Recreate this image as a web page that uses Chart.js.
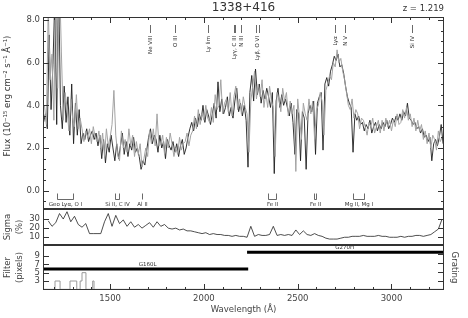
<!DOCTYPE html>
<html>
<head>
<meta charset="utf-8">
<script src="https://cdn.jsdelivr.net/npm/chart.js@4.4.1/dist/chart.umd.min.js"></script>
<style>
  html, body { margin: 0; padding: 0; background: #fff; }
  #wrap { position: relative; width: 468px; height: 318px; }
  #wrap canvas { position: absolute; left: 0; top: 0; }
</style>
</head>
<body>
<div id="wrap">
  <canvas id="flux-chart" width="468" height="318"></canvas>
  <canvas id="sigma-chart" width="468" height="318"></canvas>
  <canvas id="filter-chart" width="468" height="318"></canvas>
</div>
<script>
// ---- data ----
const plotTitle = '1338+416';
const redshiftLabel = 'z = 1.219';
const fluxTitle = 'Flux (10\u207B\u00B9\u2075 erg cm\u207B\u00B2 s\u207B\u00B9 \u00C5\u207B\u00B9)';

const waveMin = 1142, waveMax = 3280;
const waveTicks = [1500, 2000, 2500, 3000];

// main spectrum, 10 A bins starting at 1145 A
const fluxStart = 1145, fluxStep = 10;
const fluxBlack = [
  3.2, 3.6, 2.9, 7.3, 3.8, 5.9, 9.0, 3.1, 10.0, 4.0,
  2.9, 4.9, 3.2, 4.4, 2.6, 5.0, 2.2, 4.1, 2.6, 3.8,
  2.2, 2.7, 2.4, 2.9, 2.3, 2.6, 2.8, 2.4, 2.7, 2.1,
  2.6, 1.5, 2.4, 1.3, 2.2, 1.8, 2.6, 2.0, 1.4, 2.2,
  1.5, 2.1, 2.7, 1.7, 2.3, 1.6, 2.2, 1.9, 2.5, 1.8,
  2.0, 1.6, 1.0, 1.4, 1.2, 1.9, 2.5, 2.9, 2.2, 2.6,
  2.4, 1.8, 2.6, 2.0, 2.3, 1.5, 2.4, 2.1, 1.9, 2.3,
  1.8, 2.2, 1.6, 2.1, 2.4, 1.7, 2.0, 2.5, 2.9, 3.2,
  2.8, 3.4, 3.0, 3.6, 3.3, 4.0, 3.2, 3.8, 3.5, 3.1,
  3.6, 4.1, 3.4, 5.1, 3.7, 4.3, 3.6, 3.9, 4.4, 3.5,
  3.9, 3.4, 4.2, 4.8, 3.7, 4.1, 3.5, 4.0, 3.3, 1.1,
  4.6, 5.4, 4.2, 5.7, 4.5, 5.0, 4.1, 4.7, 4.3, 4.8,
  4.4, 3.9, 4.6, 0.8, 4.2, 4.8, 3.9, 4.5, 4.0, 4.3,
  3.9, 3.5, 4.1, 3.2, 1.7, 3.8, 3.6, 1.4, 3.7, 3.4,
  1.0, 3.6, 4.0, 3.7, 4.2, 1.7, 4.1, 4.4, 4.6, 1.9,
  5.0, 5.3, 4.9, 5.6, 5.9, 6.3, 6.1, 6.4, 5.8, 5.9,
  5.5, 4.9, 4.4, 4.1, 3.9, 1.8, 3.6, 3.3, 3.5, 3.1,
  3.2, 2.8, 3.1, 2.9, 3.3, 2.7, 3.0, 3.2, 2.8, 3.1,
  2.9, 3.2, 3.0, 3.3, 2.9, 3.1, 3.4, 3.2, 3.5, 3.3,
  3.6, 3.3, 3.7, 3.5, 4.1, 3.4, 3.3, 3.1, 3.2, 2.9,
  3.0, 2.7, 2.9, 2.5, 2.6, 2.3, 2.5, 1.4, 2.2, 2.4,
  2.1, 2.5, 3.1, 2.2
];

// second (lighter) exposure, 10 A bins starting at 1150 A
const grayStart = 1150, grayStep = 10;
const fluxGray = [
  4.0, 3.1, 8.6, 5.2, 6.4, 3.3, 10.0, 4.8, 10.0, 6.5,
  3.3, 4.6, 3.9, 2.8, 4.3, 3.4, 3.0, 4.5, 2.9, 3.4,
  2.9, 2.3, 2.8, 2.5, 2.9, 2.2, 3.0, 2.5, 2.3, 2.8,
  2.0, 2.7, 1.6, 2.9, 2.1, 2.5, 3.1, 4.7, 2.6, 1.7,
  1.4, 2.8, 2.0, 2.4, 1.8, 2.9, 2.1, 2.6, 1.6, 2.3,
  1.7, 2.2, 1.1, 1.5, 2.0, 1.6, 2.8, 2.2, 2.9, 2.1,
  3.6, 2.1, 2.2, 2.6, 1.7, 2.5, 2.0, 2.7, 2.2, 1.6,
  2.0, 1.7, 2.5, 1.9, 2.2, 2.3, 2.7, 2.1, 2.6, 2.8,
  3.5, 2.9, 3.8, 3.1, 3.6, 3.3, 4.0, 3.4, 3.2, 3.9,
  3.2, 4.5, 3.8, 4.0, 5.2, 3.6, 4.1, 4.3, 3.7, 4.6,
  3.5, 4.4, 4.9, 3.8, 4.3, 3.6, 4.4, 3.9, 3.6, 1.8,
  4.2, 4.9, 5.6, 4.3, 5.0, 4.4, 5.2, 3.9, 4.6, 3.9,
  4.9, 4.2, 3.9, 1.6, 4.6, 4.3, 3.7, 4.8, 4.2, 4.6,
  3.5, 4.2, 3.6, 4.0, 0.9, 4.3, 3.4, 2.4, 4.1, 3.6,
  3.3, 4.3, 3.6, 4.2, 2.4, 3.8, 4.0, 4.6, 4.2, 2.6,
  4.7, 5.0, 5.4, 5.2, 6.0, 5.8, 6.6, 6.0, 6.2, 5.6,
  5.2, 4.6, 4.0, 3.8, 4.3, 3.4, 3.8, 3.6, 2.9, 3.4,
  3.3, 3.0, 2.6, 3.2, 3.0, 3.4, 2.7, 3.0, 3.3, 2.7,
  3.3, 2.8, 3.4, 3.0, 3.3, 2.8, 3.3, 3.0, 3.6, 3.1,
  3.2, 3.8, 3.4, 3.9, 3.3, 3.6, 3.0, 3.4, 2.8, 3.3,
  2.8, 3.1, 2.4, 2.8, 2.2, 2.7, 2.0, 2.6, 2.4, 1.9,
  2.8, 2.3, 2.5
];

// relative error (%), 20 A bins starting at 1170 A
const sigmaStart = 1170, sigmaStep = 20;
const sigmaPct = [
  28, 22, 26, 36, 30, 38, 27, 33, 24, 21,
  25, 14, 14, 14, 14, 27, 36, 22, 34, 25,
  29, 22, 27, 21, 24, 20, 23, 26, 21, 27,
  22, 24, 20, 19, 20, 18, 19, 17, 17, 16,
  15, 14, 15, 13, 14, 13, 13, 12, 12, 11,
  12, 11, 11, 10, 22, 11, 13, 12, 12, 13,
  22, 12, 13, 12, 13, 12, 18, 13, 17, 13,
  12, 14, 12, 11, 9, 8, 8, 8, 9, 10,
  10, 11, 11, 11, 12, 11, 11, 11, 12, 11,
  11, 10, 10, 10, 11, 10, 11, 11, 12, 12,
  11, 12, 13, 16, 19, 30
];

// smoothing filter width (pixels), value holds until the next wavelength
const filterWave = [1144, 1206, 1233, 1286, 1322, 1340, 1350, 1371, 1407, 1414, 1429, 3280];
const filterPix  = [9, 1, 3, 1, 3, 1, 3, 5, 1, 3, 1, 1];

const gratingNames = ['G160L', 'G270H'];
const gratingStart = [1142, 2230];
const gratingEnd   = [2236, 3280];
const gratingLevel = [2.35, 4.25];
const gratingLabelAt = [1700, 2750];

const fluxTicks = [0, 2, 4, 6, 8];
const sigmaTicks = [10, 20, 30];
const filterTicks = [3, 5, 7, 9];
const gratingTicks = [1, 2, 3, 4];

const emitLabels = ['Ne VIII', 'O III', 'Ly lim', 'Ly\u03B3, C III', 'N III', 'Ly\u03B2, O VI', 'Ly\u03B1', 'N V', 'Si IV'];
const emitWaves = [[1715], [1848], [2024], [2158, 2168], [2199], [2277, 2295], [2698], [2752], [3107]];

const absorbLabels = ['Geo Ly\u03B1, O I', 'Si II, C IV', 'Al II', 'Fe II', 'Fe II', 'Mg II, Mg I'];
const absorbWaves = [[1216, 1302], [1526, 1549], [1671], [2344, 2382], [2586, 2600], [2796, 2852]];

// ---- helpers ----
const FONT = "'DejaVu Sans', 'Liberation Sans', sans-serif";
const INK = '#333';
const tickFont = { family: FONT, size: 8.5 };

const toPts = (start, step, vals) => vals.map((v, i) => ({ x: start + i * step, y: v }));
const fixedTicks = list => (s) => { s.ticks = list.map(v => ({ value: v })); };

// frame with inward tick marks, like the original plot
const panelFrame = {
  id: 'panelFrame',
  afterDraw(chart, args, o) {
    const { ctx, chartArea: a, scales } = chart;
    ctx.save();
    ctx.strokeStyle = INK;
    ctx.lineWidth = 1;
    ctx.strokeRect(a.left + 0.5, a.top + 0.5, a.right - a.left - 1, a.bottom - a.top - 1);
    ctx.beginPath();
    const sx = scales.x;
    if (o.xTop || o.xBottom) {
      for (let k = Math.ceil(sx.min / 100); k * 100 <= sx.max; k++) {
        const v = k * 100;
        const px = Math.round(sx.getPixelForValue(v)) + 0.5;
        const len = v % 500 === 0 ? 6 : 3;
        if (o.xTop) { ctx.moveTo(px, a.top); ctx.lineTo(px, a.top + len); }
        if (o.xBottom) { ctx.moveTo(px, a.bottom); ctx.lineTo(px, a.bottom - len); }
      }
    }
    const side = (s, majors, minor, x0, dir) => {
      const vals = majors.map(v => [v, 6]);
      if (minor) {
        for (let k = Math.ceil(s.min / minor); k * minor <= s.max; k++) {
          const v = k * minor;
          if (!majors.some(m => Math.abs(m - v) < 1e-6)) vals.push([v, 3]);
        }
      }
      vals.forEach(([v, len]) => {
        const py = Math.round(s.getPixelForValue(v)) + 0.5;
        if (py <= a.top + 1 || py >= a.bottom - 1) return;
        ctx.moveTo(x0, py); ctx.lineTo(x0 + dir * len, py);
      });
    };
    side(scales.y, o.yTicks, o.yMinor, a.left, 1);
    side(scales[o.rScale || 'y'], o.rTicks || o.yTicks, o.rScale ? 0 : o.yMinor, a.right, -1);
    ctx.stroke();
    ctx.restore();
  }
};

// title, y title and line identifications on the flux panel
const fluxNotes = {
  id: 'fluxNotes',
  afterDraw(chart) {
    const { ctx, chartArea: a, scales: { x, y } } = chart;
    ctx.save();
    ctx.fillStyle = INK;
    ctx.strokeStyle = '#444';
    ctx.lineWidth = 0.8;
    ctx.textBaseline = 'middle';

    ctx.font = `12px ${FONT}`;
    ctx.textAlign = 'center';
    ctx.fillText(plotTitle, (a.left + a.right) / 2, 8);
    ctx.font = `8.5px ${FONT}`;
    ctx.textAlign = 'right';
    ctx.fillText(redshiftLabel, a.right, 8.5);

    ctx.save();
    ctx.translate(8, 96);
    ctx.rotate(-Math.PI / 2);
    ctx.textAlign = 'center';
    ctx.fillText(fluxTitle, 0, 0);
    ctx.restore();

    ctx.font = `5.5px ${FONT}`;
    const t0 = a.top + 8, t1 = a.top + 16;
    emitLabels.forEach((txt, i) => {
      const xs = emitWaves[i].map(w => Math.round(x.getPixelForValue(w)) + 0.5);
      ctx.beginPath();
      xs.forEach(px => { ctx.moveTo(px, t0); ctx.lineTo(px, t1); });
      ctx.stroke();
      const cx = (xs[0] + xs[xs.length - 1]) / 2;
      ctx.save();
      ctx.translate(cx, t1 + 3);
      ctx.rotate(-Math.PI / 2);
      ctx.textAlign = 'right';
      ctx.fillText(txt, 0, 0);
      ctx.restore();
    });

    const b0 = Math.round(y.getPixelForValue(0)) + 2.5, b1 = b0 + 6;
    ctx.textAlign = 'center';
    absorbLabels.forEach((txt, i) => {
      const xs = absorbWaves[i].map(w => Math.round(x.getPixelForValue(w)) + 0.5);
      ctx.beginPath();
      xs.forEach(px => { ctx.moveTo(px, b0); ctx.lineTo(px, b1); });
      if (xs.length > 1) { ctx.moveTo(xs[0], b1); ctx.lineTo(xs[xs.length - 1], b1); }
      ctx.stroke();
      ctx.fillText(txt, (xs[0] + xs[xs.length - 1]) / 2, b1 + 5);
    });
    ctx.restore();
  }
};

// grating names above their bars
const gratingNotes = {
  id: 'gratingNotes',
  afterDraw(chart) {
    const { ctx, scales: { x, yG } } = chart;
    ctx.save();
    ctx.fillStyle = INK;
    ctx.font = `5.5px ${FONT}`;
    ctx.textAlign = 'center';
    ctx.textBaseline = 'bottom';
    gratingNames.forEach((g, i) => {
      ctx.fillText(g, x.getPixelForValue(gratingLabelAt[i]), yG.getPixelForValue(gratingLevel[i]) - 2);
    });
    ctx.restore();
  }
};

const baseOptions = (padding) => ({
  responsive: false,
  animation: false,
  events: [],
  layout: { padding },
  plugins: { legend: { display: false }, tooltip: { enabled: false } },
  elements: { point: { radius: 0 }, line: { tension: 0 } }
});

const leftAxis = (min, max, list, fmt, title) => ({
  type: 'linear', position: 'left', min, max,
  grid: { display: false, drawTicks: false },
  border: { display: false },
  afterBuildTicks: fixedTicks(list),
  afterFit: (s) => { s.width = 43; },
  ticks: { padding: 3, color: '#444', font: tickFont, callback: fmt },
  title: title ? { display: true, text: title, color: '#444', font: { family: FONT, size: 8.5, lineHeight: 1.4 }, padding: { top: 2, bottom: 0 } } : { display: false }
});

// ---- flux panel ----
const fluxOpts = baseOptions({ top: 17, bottom: 109, left: 0, right: 24 });
fluxOpts.scales = {
  x: { type: 'linear', min: waveMin, max: waveMax, display: false },
  y: leftAxis(-0.86, 8.14, fluxTicks, v => v.toFixed(1))
};
fluxOpts.plugins.panelFrame = { xTop: true, yTicks: fluxTicks, yMinor: 0.5 };
new Chart(document.getElementById('flux-chart'), {
  type: 'line',
  data: {
    datasets: [
      { data: toPts(grayStart, grayStep, fluxGray), borderColor: '#a3a3a3', borderWidth: 1 },
      { data: toPts(fluxStart, fluxStep, fluxBlack), borderColor: '#1e1e1e', borderWidth: 0.9 }
    ]
  },
  options: fluxOpts,
  plugins: [panelFrame, fluxNotes]
});

// ---- sigma panel ----
const sigmaOpts = baseOptions({ top: 209, bottom: 73, left: 0, right: 24 });
sigmaOpts.scales = {
  x: { type: 'linear', min: waveMin, max: waveMax, display: false },
  y: leftAxis(1.5, 41, sigmaTicks, v => String(v), ['Sigma', '(%)'])
};
sigmaOpts.plugins.panelFrame = { yTicks: sigmaTicks };
new Chart(document.getElementById('sigma-chart'), {
  type: 'line',
  data: {
    datasets: [
      { data: toPts(sigmaStart, sigmaStep, sigmaPct), borderColor: '#222', borderWidth: 0.8 }
    ]
  },
  options: sigmaOpts,
  plugins: [panelFrame]
});

// ---- filter / grating panel ----
const filterOpts = baseOptions({ top: 245, bottom: 0, left: 0, right: 0 });
filterOpts.scales = {
  x: {
    type: 'linear', position: 'bottom', min: waveMin, max: waveMax,
    grid: { display: false, drawTicks: false },
    border: { display: false },
    afterBuildTicks: fixedTicks(waveTicks),
    afterFit: (s) => { s.height = 28; },
    ticks: { padding: 4, color: '#444', font: tickFont, callback: v => String(v) },
    title: { display: true, text: 'Wavelength (\u00C5)', color: '#444', font: { family: FONT, size: 8.5 }, padding: { top: 0, bottom: 3 } }
  },
  y: leftAxis(0.84, 11.64, filterTicks, v => String(v), ['Filter', '(pixels)']),
  yG: {
    type: 'linear', position: 'right', min: 0, max: 5.06,
    grid: { display: false, drawTicks: false },
    border: { display: false },
    ticks: { display: false },
    afterFit: (s) => { s.width = 24; },
    title: { display: true, text: 'Grating', color: '#444', font: { family: FONT, size: 8.5 }, padding: { top: 9, bottom: 0 } }
  }
};
filterOpts.plugins.panelFrame = { xBottom: true, yTicks: filterTicks, rScale: 'yG', rTicks: gratingTicks };

const filterPts = filterWave.map((w, i) => ({ x: w, y: filterPix[i] }));
const gratingSets = gratingNames.map((g, i) => ({
  label: g,
  yAxisID: 'yG',
  data: [{ x: gratingStart[i], y: gratingLevel[i] }, { x: gratingEnd[i], y: gratingLevel[i] }],
  borderColor: '#000',
  borderWidth: 3
}));
new Chart(document.getElementById('filter-chart'), {
  type: 'line',
  data: {
    datasets: [
      { label: 'filter', data: filterPts, stepped: 'after', borderColor: '#9a9a9a', borderWidth: 1 },
      ...gratingSets
    ]
  },
  options: filterOpts,
  plugins: [panelFrame, gratingNotes]
});
</script>
</body>
</html>
